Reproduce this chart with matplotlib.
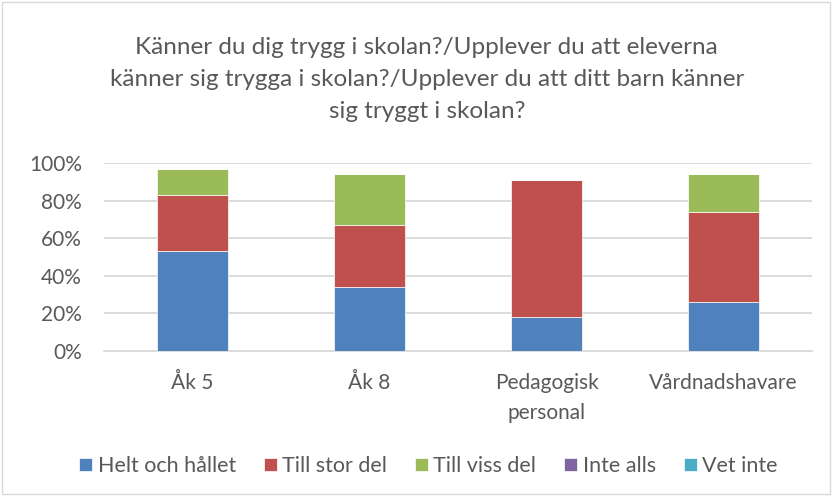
import numpy as np
import matplotlib.pyplot as plt
from matplotlib.patches import Rectangle

categories = ['Åk 5', 'Åk 8', 'Pedagogisk\npersonal', 'Vårdnadshavare']
series_names = ['Helt och hållet', 'Till stor del', 'Till viss del', 'Inte alls', 'Vet inte']
helt = [0.53, 0.34, 0.18, 0.26]
stor = [0.30, 0.33, 0.73, 0.48]
viss = [0.14, 0.27, 0.00, 0.20]
inte_alls = [0.0, 0.0, 0.0, 0.0]
vet_inte = [0.0, 0.0, 0.0, 0.0]
colors = ['#4F81BD', '#C0504D', '#9BBB59', '#8064A2', '#4BACC6']

title = ('Känner du dig trygg i skolan?/Upplever du att eleverna\n'
         'känner sig trygga i skolan?/Upplever du att ditt barn känner\n'
         'sig tryggt i skolan?')

plt.rcParams['font.family'] = ['Lato', 'DejaVu Sans']
text_color = '#595959'

fig = plt.figure(figsize=(8.32, 4.96), dpi=100)
ax = fig.add_axes([0.125, 1 - 351 / 496, 0.851, 188 / 496])

x = np.arange(len(categories))
bottom = np.zeros(len(categories))
handles = []
for name, vals, c in zip(series_names, [helt, stor, viss, inte_alls, vet_inte], colors):
    b = ax.bar(x, vals, width=0.4, bottom=bottom, color=c, label=name,
               edgecolor='white', linewidth=0.5, zorder=3)
    handles.append(b)
    bottom += np.array(vals)

ax.set_xlim(-0.5, 3.5)
ax.set_ylim(0, 1)
ax.set_yticks(np.arange(0, 1.01, 0.2))
ax.set_yticklabels([f'{int(round(v * 100))}%' for v in np.arange(0, 1.01, 0.2)])
ax.set_xticks(x)
ax.set_xticklabels(categories, linespacing=1.6)
ax.tick_params(axis='both', length=0, labelsize=15, colors=text_color)
ax.tick_params(axis='x', pad=16)
ax.tick_params(axis='y', pad=16)
ax.grid(axis='y', color='#D9D9D9', linewidth=1.3, zorder=0)
for s in ['top', 'right', 'left']:
    ax.spines[s].set_visible(False)
ax.spines['bottom'].set_color('#D9D9D9')
ax.spines['bottom'].set_linewidth(1.3)

fig.text(0.513, 1 - 37 / 496, title, ha='center', va='top', fontsize=17.5,
         color=text_color, linespacing=1.65)

leg = fig.legend(handles=handles, loc='center', bbox_to_anchor=(0.515, 1 - 466 / 496),
                 ncol=5, frameon=False, fontsize=15.5, handlelength=0.6, handleheight=0.6,
                 handletextpad=0.25, columnspacing=1.3)
for t in leg.get_texts():
    t.set_color(text_color)

fig.patches.append(Rectangle((0.003, 0.004), 0.994, 0.992, transform=fig.transFigure,
                             fill=False, edgecolor='#D9D9D9', linewidth=1))

fig.savefig('out.png', dpi=100)
